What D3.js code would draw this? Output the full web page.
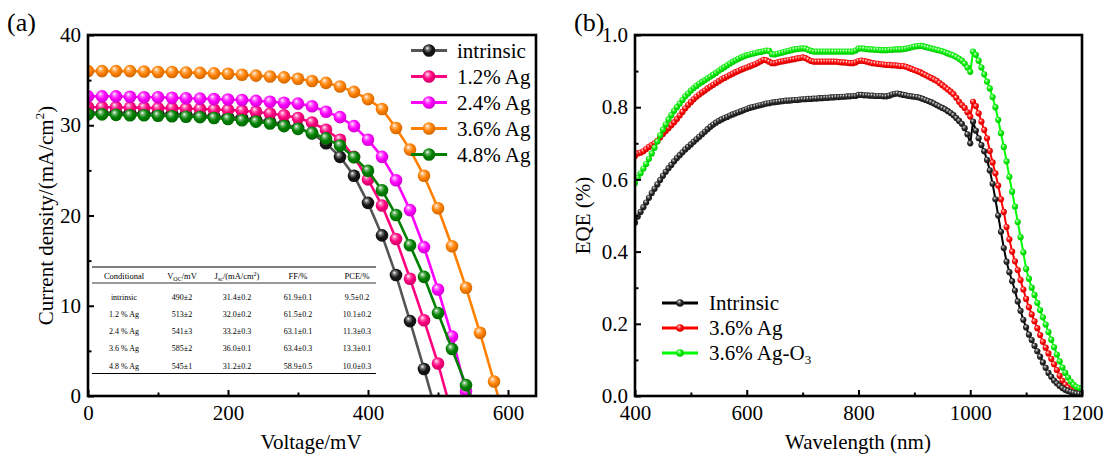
<!DOCTYPE html>
<html>
<head>
<meta charset="utf-8">
<script src="https://cdn.jsdelivr.net/npm/d3@7/dist/d3.min.js"></script>
<style>
  html, body { margin: 0; padding: 0; background: #fff; }
  svg { display: block; }
  svg text { font-family: "Liberation Serif", "Times New Roman", serif !important; fill: #000; }
</style>
</head>
<body>
<svg id="chart" width="1110" height="468"></svg>
<script>
// ---------- Panel (a): J–V curves ----------
const voltage = [0, 20, 40, 60, 80, 100, 120, 140, 160, 180, 200, 220, 240, 260, 280, 300,
                 320, 340, 360, 380, 400, 420, 440, 460, 480, 500, 520, 540, 560, 580, 600];

const jIntrinsic = [31.4, 31.4, 31.4, 31.35, 31.3, 31.3, 31.25, 31.2, 31.1, 31.0, 30.9, 30.8, 30.6,
                    30.4, 30.1, 29.7, 29.1, 28.0, 26.5, 24.4, 21.4, 17.8, 13.4, 8.3, 3.0, -2.5];
const jAg12 = [32.0, 32.0, 32.0, 31.95, 31.95, 31.9, 31.9, 31.85, 31.8, 31.75, 31.7, 31.6, 31.5,
               31.3, 31.1, 30.8, 30.3, 29.5, 28.4, 26.5, 24.0, 21.1, 17.4, 13.0, 8.4, 3.6, -2.0];
const jAg24 = [33.2, 33.2, 33.2, 33.15, 33.1, 33.1, 33.05, 33.0, 32.95, 32.9, 32.85, 32.8, 32.7,
               32.6, 32.5, 32.4, 32.1, 31.5, 30.9, 29.9, 28.4, 26.5, 23.9, 20.6, 16.5, 11.8, 6.6, 0.5, -5.5];
const jAg36 = [36.0, 36.0, 36.0, 36.0, 35.95, 35.9, 35.9, 35.85, 35.8, 35.75, 35.7, 35.6, 35.5,
               35.4, 35.3, 35.15, 34.9, 34.7, 34.3, 33.7, 32.9, 31.8, 29.7, 27.3, 24.4, 20.8, 16.6,
               12.0, 7.0, 1.6, -4.0];
const jAg48 = [31.2, 31.2, 31.15, 31.1, 31.1, 31.05, 31.0, 30.95, 30.9, 30.8, 30.7, 30.55, 30.4,
               30.2, 29.9, 29.6, 29.15, 28.55, 27.75, 26.45, 24.95, 22.8, 20.05, 16.7, 13.2, 9.2, 5.2, 1.2, -2.8];

const jvNames = ["intrinsic", "1.2% Ag", "2.4% Ag", "3.6% Ag", "4.8% Ag"];
const jvLineColors = ["#555555", "#FF007F", "#FF00FF", "#FF8000", "#008000"];
const jvMarkerColors = ["#151515", "#FF007F", "#FF00FF", "#FF8000", "#008000"];
const jvSeries = [jIntrinsic, jAg12, jAg24, jAg36, jAg48];

const xTicksA = [0, 200, 400, 600];
const xMinorA = [100, 300, 500];
const yTicksA = [0, 10, 20, 30, 40];
const yMinorA = [5, 15, 25, 35];

// Photovoltaic parameter table
const tableHeader = ["Conditional", "V_OC/mV", "J_sc/(mA/cm²)", "FF/%", "PCE/%"];
const tableRows = [
  ["intrinsic", "490±2", "31.4±0.2", "61.9±0.1", "9.5±0.2"],
  ["1.2 % Ag", "513±2", "32.0±0.2", "61.5±0.2", "10.1±0.2"],
  ["2.4 % Ag", "541±3", "33.2±0.3", "63.1±0.1", "11.3±0.3"],
  ["3.6 % Ag", "585±2", "36.0±0.1", "63.4±0.3", "13.3±0.1"],
  ["4.8 % Ag", "545±1", "31.2±0.2", "58.9±0.5", "10.0±0.3"]
];

// ---------- Panel (b): EQE spectra ----------
const wavelengths = d3.range(400, 1201, 5);

const eqeIntrinsic = [
  0.480,0.497,0.510,0.523,0.536,0.549,0.562,0.574,0.586,0.598,0.610,0.621,0.631,0.640,0.650,0.659,0.667,0.675,0.683,0.690,
  0.697,0.704,0.711,0.718,0.725,0.732,0.739,0.746,0.752,0.757,0.762,0.766,0.770,0.773,0.777,0.780,0.783,0.786,0.789,0.792,
  0.795,0.798,0.800,0.802,0.804,0.806,0.808,0.810,0.811,0.813,0.814,0.815,0.816,0.817,0.818,0.818,0.819,0.820,0.820,0.821,
  0.822,0.822,0.823,0.823,0.824,0.824,0.825,0.825,0.826,0.826,0.827,0.827,0.828,0.828,0.829,0.829,0.830,0.830,0.831,0.831,
  0.834,0.834,0.833,0.833,0.832,0.832,0.831,0.831,0.831,0.830,0.830,0.832,0.835,0.837,0.838,0.836,0.834,0.833,0.831,0.830,
  0.829,0.828,0.826,0.823,0.820,0.817,0.814,0.810,0.806,0.802,0.798,0.794,0.789,0.784,0.778,0.770,0.762,0.754,0.742,0.725,
  0.700,0.760,0.735,0.714,0.695,0.678,0.654,0.625,0.588,0.545,0.500,0.455,0.410,0.372,0.343,0.318,0.292,0.262,0.236,0.211,
  0.190,0.170,0.155,0.139,0.124,0.109,0.093,0.078,0.064,0.053,0.043,0.035,0.028,0.022,0.017,0.014,0.011,0.009,0.007,0.006,
  0.005];
const eqeAg36 = [
  0.665,0.672,0.674,0.678,0.684,0.690,0.695,0.700,0.707,0.716,0.726,0.734,0.742,0.750,0.758,0.767,0.777,0.787,0.797,0.806,
  0.814,0.822,0.829,0.835,0.841,0.846,0.852,0.857,0.862,0.867,0.872,0.877,0.881,0.885,0.889,0.893,0.897,0.900,0.904,0.907,
  0.910,0.913,0.916,0.919,0.923,0.927,0.931,0.930,0.926,0.922,0.922,0.924,0.926,0.927,0.929,0.930,0.932,0.933,0.935,0.936,
  0.938,0.936,0.932,0.928,0.926,0.926,0.926,0.926,0.926,0.926,0.926,0.926,0.926,0.925,0.924,0.924,0.923,0.922,0.922,0.924,
  0.928,0.929,0.928,0.926,0.924,0.922,0.921,0.920,0.919,0.918,0.917,0.917,0.916,0.916,0.915,0.914,0.914,0.912,0.909,0.906,
  0.903,0.900,0.897,0.893,0.889,0.885,0.881,0.877,0.873,0.867,0.861,0.855,0.849,0.843,0.836,0.826,0.815,0.806,0.798,0.786,
  0.774,0.815,0.803,0.783,0.760,0.737,0.714,0.679,0.647,0.617,0.583,0.545,0.510,0.468,0.434,0.400,0.373,0.349,0.321,0.295,
  0.269,0.246,0.226,0.207,0.188,0.169,0.150,0.134,0.118,0.103,0.088,0.072,0.056,0.042,0.031,0.023,0.016,0.011,0.008,0.006,
  0.005];
const eqeAg36O3 = [
  0.590,0.604,0.617,0.630,0.643,0.657,0.672,0.688,0.705,0.722,0.738,0.752,0.766,0.778,0.790,0.800,0.810,0.820,0.830,0.838,
  0.846,0.853,0.859,0.865,0.870,0.875,0.880,0.885,0.890,0.895,0.901,0.906,0.911,0.916,0.921,0.926,0.930,0.934,0.938,0.941,
  0.944,0.946,0.948,0.950,0.952,0.953,0.955,0.957,0.956,0.947,0.946,0.948,0.950,0.952,0.954,0.956,0.958,0.960,0.961,0.962,
  0.963,0.962,0.959,0.956,0.954,0.954,0.954,0.954,0.954,0.954,0.954,0.954,0.954,0.954,0.954,0.954,0.954,0.954,0.954,0.957,
  0.962,0.963,0.962,0.961,0.960,0.960,0.959,0.959,0.958,0.958,0.958,0.959,0.959,0.960,0.960,0.960,0.961,0.962,0.964,0.966,
  0.968,0.969,0.970,0.969,0.967,0.965,0.963,0.961,0.959,0.957,0.955,0.952,0.949,0.946,0.943,0.939,0.934,0.929,0.921,0.910,
  0.898,0.954,0.945,0.929,0.910,0.891,0.871,0.852,0.828,0.800,0.765,0.728,0.690,0.650,0.607,0.566,0.525,0.482,0.440,0.398,
  0.352,0.325,0.300,0.280,0.258,0.238,0.218,0.198,0.177,0.156,0.135,0.115,0.096,0.079,0.064,0.051,0.040,0.031,0.025,0.022,
  0.021];

const eqeNames = ["Intrinsic", "3.6% Ag", "3.6% Ag-O"];
const eqeColors = ["#000000", "#FF0000", "#00FF00"];
const eqeMarkerColors = ["#222222", "#FF0000", "#00EE00"];
const eqeSeries = [eqeIntrinsic, eqeAg36, eqeAg36O3];

const xTicksB = [400, 600, 800, 1000, 1200];
const xMinorB = [500, 700, 900, 1100];
const yTicksB = [0, 0.2, 0.4, 0.6, 0.8, 1.0];
const yMinorB = [0.1, 0.3, 0.5, 0.7, 0.9];

// ---------- drawing ----------
const svg = d3.select("#chart");
svg.append("rect").attr("width", 1110).attr("height", 468).attr("fill", "#fff");
const defs = svg.append("defs");

function sphere(id, base) {
  const g = defs.append("radialGradient").attr("id", id)
    .attr("cx", "45%").attr("cy", "42%").attr("r", "62%")
    .attr("fx", "36%").attr("fy", "30%");
  g.append("stop").attr("offset", "0%").attr("stop-color", "#ffffff");
  g.append("stop").attr("offset", "22%").attr("stop-color", d3.interpolateRgb(base, "#ffffff")(0.45));
  g.append("stop").attr("offset", "55%").attr("stop-color", base);
  g.append("stop").attr("offset", "100%").attr("stop-color", d3.color(base).darker(0.7).formatHex());
  return `url(#${id})`;
}

const FONT = 21;

function panel(opts) {
  const { x, y, xMajor, xMinor, yMajor, yMinor, yFormat, clipId } = opts;
  const [x0, x1] = x.range();
  const [y0, y1] = y.range();
  defs.append("clipPath").attr("id", clipId)
    .append("rect").attr("x", x0).attr("y", y1).attr("width", x1 - x0).attr("height", y0 - y1);

  const g = svg.append("g");
  const plot = g.append("g").attr("clip-path", `url(#${clipId})`);

  const axes = g.append("g");
  axes.append("g").attr("transform", `translate(0,${y0})`)
    .call(d3.axisBottom(x).tickValues(xMajor).tickSize(-6).tickPadding(9).tickFormat(d3.format("d")));
  axes.append("g").attr("transform", `translate(0,${y0})`)
    .call(d3.axisBottom(x).tickValues(xMinor).tickSize(-3.5).tickFormat(""));
  axes.append("g").attr("transform", `translate(${x0},0)`)
    .call(d3.axisLeft(y).tickValues(yMajor).tickSize(-6).tickPadding(7).tickFormat(yFormat));
  axes.append("g").attr("transform", `translate(${x0},0)`)
    .call(d3.axisLeft(y).tickValues(yMinor).tickSize(-3.5).tickFormat(""));
  axes.selectAll(".domain").remove();
  axes.selectAll(".tick line").attr("stroke", "#000").attr("stroke-width", 2);
  axes.selectAll(".tick text").attr("font-size", FONT).attr("fill", "#000");

  g.append("rect").attr("x", x0).attr("y", y1).attr("width", x1 - x0).attr("height", y0 - y1)
    .attr("fill", "none").attr("stroke", "#000").attr("stroke-width", 2.6);
  return { plot, g };
}

// Panel (a)
const xA = d3.scaleLinear().domain([0, 640]).range([88, 536]);
const yA = d3.scaleLinear().domain([0, 40]).range([396, 35]);
const pA = panel({ x: xA, y: yA, xMajor: xTicksA, xMinor: xMinorA, yMajor: yTicksA, yMinor: yMinorA,
                   yFormat: d3.format("d"), clipId: "clipA" });

const lineA = d3.line().x(d => xA(d[0])).y(d => yA(d[1]));
jvSeries.forEach((vals, i) => {
  const pts = vals.map((v, k) => [voltage[k], v]);
  const fill = sphere("sa" + i, jvMarkerColors[i]);
  const sg = pA.plot.append("g");
  sg.append("path").datum(pts).attr("d", lineA).attr("fill", "none")
    .attr("stroke", jvLineColors[i]).attr("stroke-width", 2.6);
  sg.selectAll("circle").data(pts).join("circle")
    .attr("cx", d => xA(d[0])).attr("cy", d => yA(d[1])).attr("r", 6.3).attr("fill", fill);
});

// legend (a)
jvNames.forEach((name, i) => {
  const ly = 50.5 + i * 26;
  const lg = svg.append("g");
  lg.append("line").attr("x1", 411).attr("x2", 447).attr("y1", ly).attr("y2", ly)
    .attr("stroke", jvLineColors[i]).attr("stroke-width", 3);
  lg.append("circle").attr("cx", 429).attr("cy", ly).attr("r", 6.3).attr("fill", `url(#sa${i})`);
  lg.append("text").attr("x", 457).attr("y", ly + 7).attr("font-size", FONT).text(name);
});

// table (a)
const colX = [124, 182, 237, 298, 357];
const tbl = svg.append("g").attr("font-size", 8);
tbl.append("line").attr("x1", 92).attr("x2", 376).attr("y1", 267).attr("y2", 267).attr("stroke", "#000").attr("stroke-width", 1);
tbl.append("line").attr("x1", 92).attr("x2", 376).attr("y1", 283).attr("y2", 283).attr("stroke", "#000").attr("stroke-width", 0.8);
tbl.append("line").attr("x1", 92).attr("x2", 376).attr("y1", 373.5).attr("y2", 373.5).attr("stroke", "#000").attr("stroke-width", 1);
tableHeader.forEach((h, c) => {
  const t = tbl.append("text").attr("x", colX[c]).attr("y", 278.5).attr("text-anchor", "middle").attr("font-size", 8.5);
  if (h.startsWith("V_")) {
    t.append("tspan").text("V");
    t.append("tspan").attr("font-size", 6).attr("dy", 2).text("OC");
    t.append("tspan").attr("dy", -2).text("/mV");
  } else if (h.startsWith("J_")) {
    t.append("tspan").text("J");
    t.append("tspan").attr("font-size", 6).attr("dy", 2).text("sc");
    t.append("tspan").attr("dy", -2).text("/(mA/cm");
    t.append("tspan").attr("font-size", 6).attr("dy", -3).text("2");
    t.append("tspan").attr("dy", 3).text(")");
  } else {
    t.text(h);
  }
});
tableRows.forEach((row, r) => {
  const ry = 299.5 + r * 17.3;
  row.forEach((cell, c) => {
    tbl.append("text").attr("x", colX[c]).attr("y", ry).attr("text-anchor", "middle").text(cell);
  });
});

// axis titles (a)
svg.append("text").attr("x", 311).attr("y", 449).attr("text-anchor", "middle").attr("font-size", FONT).text("Voltage/mV");
const ytA = svg.append("text").attr("transform", "translate(53,215.5) rotate(-90)")
  .attr("text-anchor", "middle").attr("font-size", FONT);
ytA.append("tspan").text("Current density/(mA/cm");
ytA.append("tspan").attr("font-size", 13).attr("dy", -9).text("2");
ytA.append("tspan").attr("dy", 9).text(")");
svg.append("text").attr("x", 7).attr("y", 31).attr("font-size", 26).text("(a)");

// Panel (b)
const xB = d3.scaleLinear().domain([400, 1200]).range([635, 1082]);
const yB = d3.scaleLinear().domain([0, 1]).range([396, 35]);
const pB = panel({ x: xB, y: yB, xMajor: xTicksB, xMinor: xMinorB, yMajor: yTicksB, yMinor: yMinorB,
                   yFormat: d3.format(".1f"), clipId: "clipB" });

const lineB = d3.line().x(d => xB(d[0])).y(d => yB(d[1]));
const drawOrder = [1, 2, 0];
drawOrder.forEach(i => {
  const pts = eqeSeries[i].map((v, k) => [wavelengths[k], v]);
  const fill = sphere("sb" + i, eqeMarkerColors[i]);
  const sg = pB.plot.append("g");
  sg.append("path").datum(pts).attr("d", lineB).attr("fill", "none")
    .attr("stroke", eqeColors[i]).attr("stroke-width", 2);
  sg.selectAll("circle").data(pts).join("circle")
    .attr("cx", d => xB(d[0])).attr("cy", d => yB(d[1])).attr("r", 3.1).attr("fill", fill);
});

// legend (b)
eqeNames.forEach((name, i) => {
  const ly = 303 + i * 25;
  const lg = svg.append("g");
  lg.append("line").attr("x1", 662).attr("x2", 698).attr("y1", ly).attr("y2", ly)
    .attr("stroke", eqeColors[i]).attr("stroke-width", 3);
  lg.append("circle").attr("cx", 680).attr("cy", ly).attr("r", 3.8).attr("fill", `url(#sb${i})`);
  const t = lg.append("text").attr("x", 709).attr("y", ly + 7).attr("font-size", FONT).text(name);
  if (i === 2) t.append("tspan").attr("font-size", 13).attr("dy", 4).text("3");
});

// axis titles (b)
svg.append("text").attr("x", 858).attr("y", 449).attr("text-anchor", "middle").attr("font-size", FONT).text("Wavelength (nm)");
svg.append("text").attr("transform", "translate(590,215.5) rotate(-90)")
  .attr("text-anchor", "middle").attr("font-size", FONT).text("EQE (%)");
svg.append("text").attr("x", 574).attr("y", 31).attr("font-size", 26).text("(b)");
</script>
</body>
</html>
